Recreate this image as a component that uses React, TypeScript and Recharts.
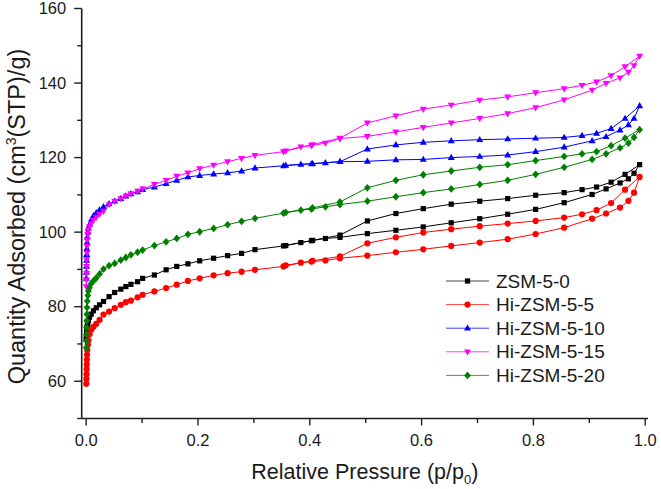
import React from 'react';
import { LineChart, Line, XAxis, YAxis, Legend } from 'recharts';

// Relative pressures of the adsorption branch (shared by all samples)
const PRESSURE_ADS = [
  0.0002, 0.0004, 0.0006, 0.0008, 0.001, 0.0013, 0.0016, 0.002, 0.003, 0.004,
  0.006, 0.009, 0.013, 0.018, 0.024, 0.031, 0.041, 0.051, 0.062, 0.071,
  0.08, 0.092, 0.101, 0.122, 0.143, 0.162, 0.182, 0.203, 0.228, 0.253,
  0.278, 0.302, 0.353, 0.384, 0.403, 0.428, 0.454, 0.503, 0.554, 0.603,
  0.653, 0.704, 0.754, 0.804, 0.855, 0.905, 0.93, 0.955, 0.97, 0.98, 0.99,
];

// Relative pressures of the desorption branch
const PRESSURE_DES = [
  0.99, 0.964, 0.939, 0.913, 0.887, 0.855, 0.804, 0.754, 0.704, 0.653,
  0.603, 0.554, 0.503, 0.454, 0.405, 0.357,
];

// Quantity adsorbed, cm3(STP)/g
const ZSM_5_0_ADS = [
  71.2, 71.8, 72.4, 72.9, 73.4, 73.9, 74.4, 74.9, 75.6, 76.3,
  77.2, 78.0, 78.9, 79.7, 80.5, 81.4, 82.7, 83.8, 84.7, 85.4,
  86.0, 86.7, 87.6, 88.5, 89.9, 90.8, 91.5, 92.3, 93.0, 93.7,
  94.3, 95.3, 96.3, 97.2, 97.7, 98.3, 98.6, 99.6, 100.5, 101.4,
  102.5, 103.6, 104.8, 106.1, 107.9, 110.1, 111.6, 113.2, 114.3, 115.8, 118.1,
];
const ZSM_5_0_DES = [
  118.1, 115.5, 113.4, 112.1, 111.4, 110.6, 109.9, 109.0, 108.3, 107.5,
  106.3, 105.0, 103.0, 99.2, 97.8, 96.4,
];

const HI_5_ADS = [
  59.3, 60.6, 61.9, 63.2, 64.5, 65.8, 67.1, 68.4, 69.8, 71.0,
  72.6, 73.8, 74.6, 75.4, 76.5, 77.9, 78.7, 79.6, 80.5, 81.2,
  81.6, 82.5, 83.2, 84.1, 85.0, 85.9, 86.9, 87.6, 88.4, 89.0,
  89.4, 89.9, 90.8, 91.8, 92.1, 92.4, 93.0, 93.7, 94.6, 95.4,
  96.3, 97.2, 98.1, 99.5, 101.2, 103.6, 105.0, 106.6, 108.4, 110.6, 114.8,
];
const HI_5_DES = [
  114.8, 111.4, 107.8, 105.9, 104.8, 103.9, 103.0, 102.3, 101.6, 100.8,
  99.9, 98.6, 97.0, 93.5, 92.3, 91.1,
];

const HI_10_ADS = [
  87.6, 89.2, 90.8, 92.4, 94.0, 95.6, 97.2, 98.7, 100.0, 101.0,
  102.0, 103.3, 104.4, 105.2, 106.0, 106.8, 107.6, 108.3, 109.0, 109.7,
  110.3, 110.8, 111.4, 112.1, 113.0, 113.9, 114.8, 115.2, 115.6, 115.9,
  116.4, 117.2, 117.8, 118.2, 118.3, 118.6, 118.9, 119.0, 119.4, 119.5,
  120.0, 120.3, 120.7, 121.6, 122.8, 124.5, 125.6, 127.4, 128.8, 130.5, 133.9,
];
const HI_10_DES = [
  133.9, 130.5, 127.8, 126.5, 125.9, 125.4, 125.2, 125.0, 124.8, 124.5,
  124.1, 123.4, 122.3, 118.9, 118.4, 117.9,
];

const HI_15_ADS = [
  85.4, 87.2, 89.0, 90.8, 92.6, 94.4, 96.2, 97.9, 99.4, 100.5,
  101.5, 102.3, 103.2, 104.0, 104.8, 105.6, 107.4, 108.3, 109.0, 109.7,
  110.3, 111.0, 111.6, 112.8, 113.9, 115.0, 115.9, 117.0, 118.0, 118.9,
  119.8, 120.6, 121.6, 122.9, 123.2, 123.9, 125.1, 125.7, 126.9, 128.1,
  129.3, 130.5, 131.8, 133.4, 135.5, 138.1, 139.9, 141.4, 142.9, 144.7, 147.2,
];
const HI_15_DES = [
  147.2, 144.4, 142.0, 140.3, 139.4, 138.5, 137.4, 136.3, 135.4, 134.1,
  133.0, 131.2, 129.3, 125.2, 123.5, 121.8,
];

const HI_20_ADS = [
  69.0, 70.8, 72.6, 74.4, 76.2, 78.0, 79.8, 81.5, 83.0, 84.2,
  85.1, 86.2, 86.9, 87.7, 88.8, 90.1, 91.0, 91.6, 92.5, 93.2,
  93.9, 94.6, 95.2, 96.4, 97.4, 98.3, 99.4, 100.1, 101.0, 102.0,
  102.9, 103.7, 105.1, 105.9, 106.2, 106.8, 107.4, 108.3, 109.5, 110.6,
  111.6, 112.8, 113.9, 115.5, 117.4, 119.5, 121.0, 122.6, 123.9, 125.4, 127.5,
];
const HI_20_DES = [
  127.5, 125.2, 123.2, 121.6, 121.0, 120.3, 119.2, 118.1, 117.4, 116.4,
  115.4, 113.9, 111.9, 108.1, 106.5, 105.3,
];

const SERIES_NAMES = ['ZSM-5-0', 'Hi-ZSM-5-5', 'Hi-ZSM-5-10', 'Hi-ZSM-5-15', 'Hi-ZSM-5-20'];
const SERIES_COLORS = ['#000000', '#ff0000', '#0000ff', '#ff00ff', '#008000'];
const SERIES_SHAPES = ['square', 'circle', 'up', 'down', 'diamond'];
const SERIES_ADS = [ZSM_5_0_ADS, HI_5_ADS, HI_10_ADS, HI_15_ADS, HI_20_ADS];
const SERIES_DES = [ZSM_5_0_DES, HI_5_DES, HI_10_DES, HI_15_DES, HI_20_DES];

const X_TICKS = [0, 0.1, 0.2, 0.3, 0.4, 0.5, 0.6, 0.7, 0.8, 0.9, 1.0];
const X_LABELED = [0, 0.2, 0.4, 0.6, 0.8, 1.0];
const Y_TICKS = [50, 60, 70, 80, 90, 100, 110, 120, 130, 140, 150, 160];
const Y_LABELED = [60, 80, 100, 120, 140, 160];

const FONT = 'Arial, "Liberation Sans", sans-serif';
const AXIS_COLOR = '#1e1e1e';

// adsorption branch followed by the desorption branch, as one closed loop
const loops = SERIES_NAMES.map((name, s) => {
  const ads = SERIES_ADS[s].map((v, i) => ({ p: PRESSURE_ADS[i], v }));
  const des = SERIES_DES[s].slice(1).map((v, i) => ({ p: PRESSURE_DES[i + 1], v }));
  return { name, color: SERIES_COLORS[s], shape: SERIES_SHAPES[s], data: [...ads, ...des] };
});

function Marker({ shape, cx, cy, color }: { shape: string; cx: number; cy: number; color: string }) {
  if (cx == null || cy == null) return null;
  switch (shape) {
    case 'square':
      return <rect x={cx - 2.6} y={cy - 2.6} width={5.2} height={5.2} fill={color} />;
    case 'circle':
      return <circle cx={cx} cy={cy} r={3.1} fill={color} />;
    case 'up':
      return <polygon points={`${cx},${cy - 3.8} ${cx + 3.5},${cy + 2.4} ${cx - 3.5},${cy + 2.4}`} fill={color} />;
    case 'down':
      return <polygon points={`${cx},${cy + 3.8} ${cx + 3.5},${cy - 2.4} ${cx - 3.5},${cy - 2.4}`} fill={color} />;
    default:
      return <polygon points={`${cx},${cy - 3.9} ${cx + 3.4},${cy} ${cx},${cy + 3.9} ${cx - 3.4},${cy}`} fill={color} />;
  }
}

function XTick(props: any) {
  const { x, y, payload } = props;
  const v = payload.value;
  const major = X_LABELED.some((t) => Math.abs(t - v) < 1e-9);
  return (
    <g>
      <line x1={x} x2={x} y1={y} y2={y + (major ? 7 : 4.5)} stroke={AXIS_COLOR} strokeWidth={1.4} />
      {major && (
        <text x={x} y={y + 22} textAnchor="middle" dy="0.35em" fontSize={16.5} fontFamily={FONT} fill="#1a1a1a">
          {v.toFixed(1)}
        </text>
      )}
    </g>
  );
}

function YTick(props: any) {
  const { x, y, payload } = props;
  const v = payload.value;
  const major = Y_LABELED.includes(v);
  return (
    <g>
      <line x1={x} x2={x - (major ? 7.5 : 4.5)} y1={y} y2={y} stroke={AXIS_COLOR} strokeWidth={1.4} />
      {major && (
        <text x={x - 15.5} y={y} textAnchor="end" dy="0.35em" fontSize={16.5} fontFamily={FONT} fill="#1a1a1a">
          {v}
        </text>
      )}
    </g>
  );
}

function XTitle(props: any) {
  const { viewBox } = props;
  const cx = viewBox.x + viewBox.width / 2;
  const cy = viewBox.y + 53;
  return (
    <text x={cx} y={cy} textAnchor="middle" dy="0.35em" fontSize={21.5} fontFamily={FONT} fill="#1a1a1a">
      Relative Pressure (p/p
      <tspan fontSize={13} dy={5}>0</tspan>
      <tspan dy={-5}>)</tspan>
    </text>
  );
}

function YTitle(props: any) {
  const { viewBox } = props;
  const cx = 17;
  const cy = viewBox.y + viewBox.height / 2 + 3;
  return (
    <text
      x={cx}
      y={cy}
      textAnchor="middle"
      dy="0.35em"
      fontSize={23.5}
      fontFamily={FONT}
      fill="#1a1a1a"
      transform={`rotate(-90 ${cx} ${cy})`}
    >
      Quantity Adsorbed (cm
      <tspan fontSize={14} dy={-9}>3</tspan>
      <tspan dy={9}>(STP)/g)</tspan>
    </text>
  );
}

function LegendBox() {
  return (
    <svg width={200} height={120} style={{ display: 'block', overflow: 'visible' }}>
      {loops.map((s, i) => {
        const cy = 13 + i * 23.6;
        return (
          <g key={s.name}>
            <line x1={6} x2={49} y1={cy} y2={cy} stroke={s.color} strokeWidth={1} strokeOpacity={0.75} />
            <Marker shape={s.shape} cx={27.5} cy={cy} color={s.color} />
            <text x={56} y={cy} dy="0.35em" fontSize={19} fontFamily={FONT} fill="#1a1a1a">
              {s.name}
            </text>
          </g>
        );
      })}
    </svg>
  );
}

export default function App() {
  return (
    <div style={{ position: 'absolute', left: 0, top: 0, width: 661, height: 489, background: '#fff' }}>
      <LineChart width={661} height={489} margin={{ top: 8.5, right: 13, bottom: 0, left: 0 }}>
        <XAxis
          xAxisId="top"
          orientation="top"
          type="number"
          domain={[-0.008, 1.005]}
          height={0}
          tick={false}
          tickLine={false}
          axisLine={{ stroke: AXIS_COLOR, strokeWidth: 1.6 }}
        />
        <YAxis
          yAxisId="right"
          orientation="right"
          type="number"
          domain={[50, 160]}
          width={0}
          tick={false}
          tickLine={false}
          axisLine={{ stroke: AXIS_COLOR, strokeWidth: 1.6 }}
        />
        <XAxis
          dataKey="p"
          type="number"
          domain={[-0.008, 1.005]}
          ticks={X_TICKS}
          interval={0}
          height={70.5}
          tickSize={0}
          tickMargin={0}
          tickLine={false}
          tick={<XTick />}
          axisLine={{ stroke: AXIS_COLOR, strokeWidth: 1.6 }}
          allowDataOverflow
          label={<XTitle />}
        />
        <YAxis
          type="number"
          domain={[50, 160]}
          ticks={Y_TICKS}
          interval={0}
          width={81.7}
          tickSize={0}
          tickMargin={0}
          tickLine={false}
          tick={<YTick />}
          axisLine={{ stroke: AXIS_COLOR, strokeWidth: 1.6 }}
          allowDataOverflow
          label={<YTitle />}
        />
        {loops.map((s) => (
          <Line
            key={s.name}
            name={s.name}
            data={s.data}
            dataKey="v"
            type="linear"
            stroke={s.color}
            strokeWidth={1}
            isAnimationActive={false}
            activeDot={false}
            dot={(props: any) => (
              <Marker key={`${s.name}-${props.index}`} shape={s.shape} cx={props.cx} cy={props.cy} color={s.color} />
            )}
          />
        ))}
        <Legend
          layout="vertical"
          align="center"
          verticalAlign="middle"
          wrapperStyle={{ left: 440, top: 268, width: 200, height: 120 }}
          content={() => <LegendBox />}
        />
      </LineChart>
    </div>
  );
}
